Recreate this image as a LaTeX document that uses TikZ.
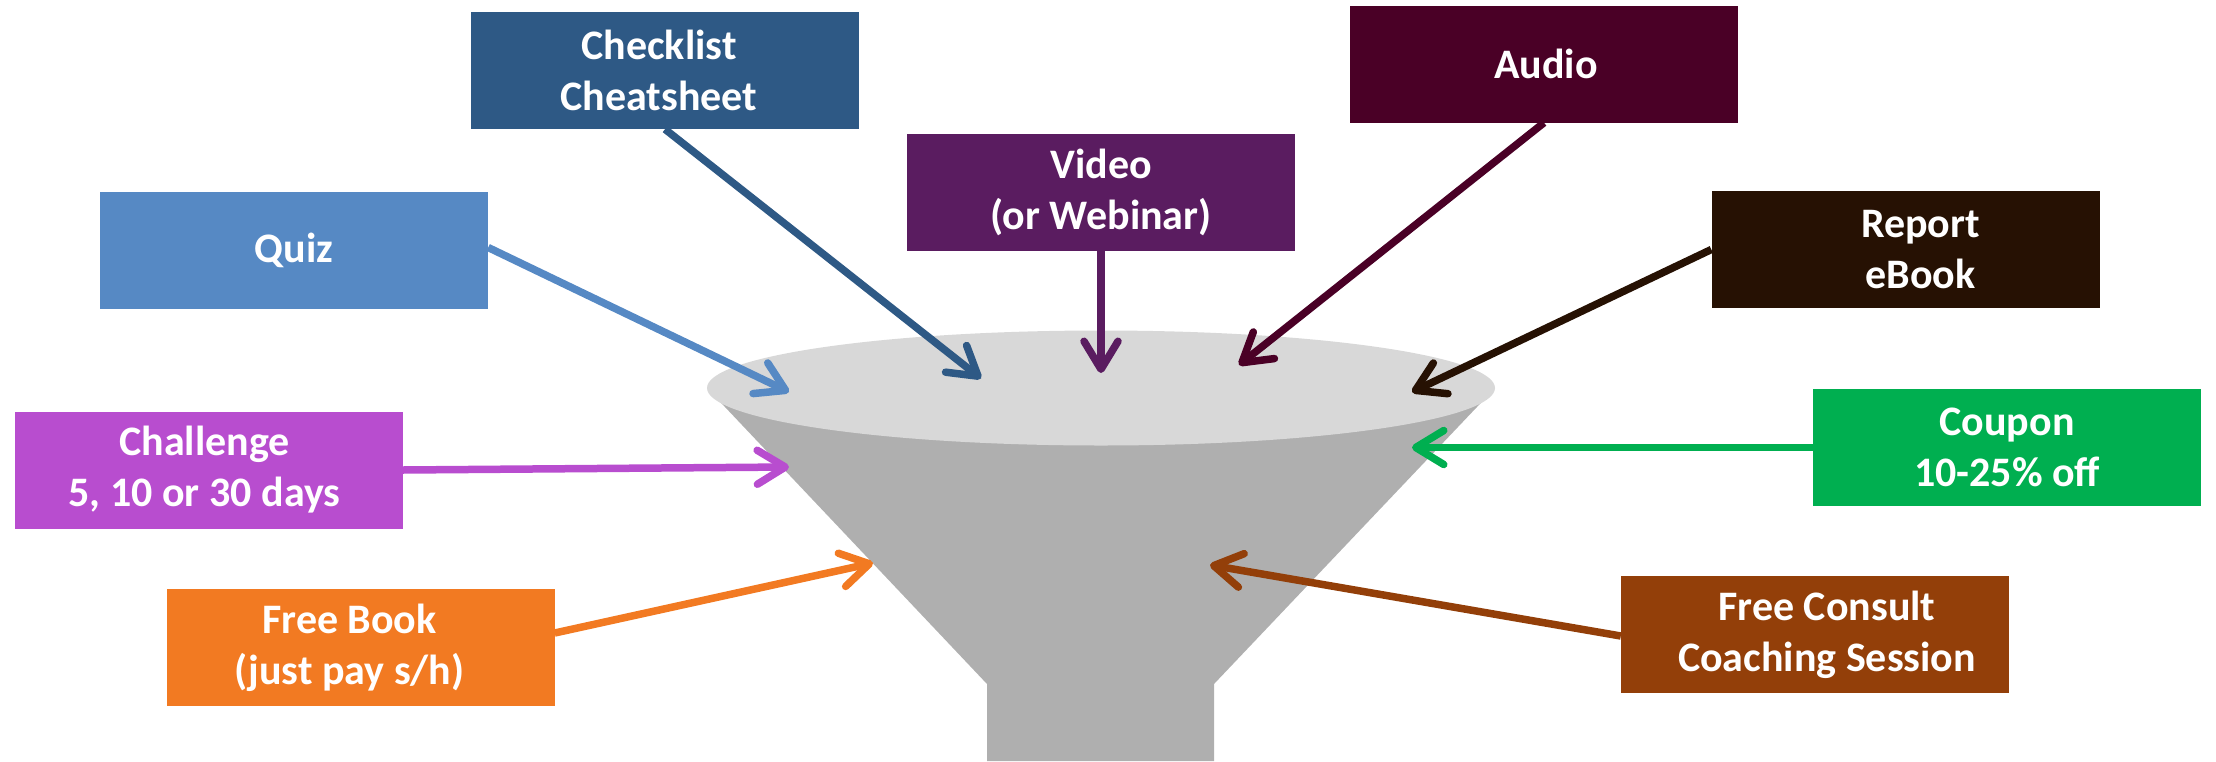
\documentclass[tikz,border=0pt]{standalone}
\usepackage{fontspec}
\setmainfont{Carlito}
\usetikzlibrary{arrows.meta}
\definecolor{cQuiz}{HTML}{5689C4}
\definecolor{cCheck}{HTML}{2E5985}
\definecolor{cVideo}{HTML}{5A1C60}
\definecolor{cAudio}{HTML}{4A0026}
\definecolor{cReport}{HTML}{261103}
\definecolor{cCoupon}{HTML}{00AF50}
\definecolor{cConsult}{HTML}{933F09}
\definecolor{cChall}{HTML}{B84DCF}
\definecolor{cBook}{HTML}{F27A22}
\definecolor{cTop}{HTML}{D8D8D8}
\definecolor{cCone}{HTML}{AFAFAF}
\newcommand{\shiftline}[1]{\hspace*{#1}}
\begin{document}
\begin{tikzpicture}[x=1pt,y=-1pt,
  box/.style={minimum width=388pt,minimum height=117pt,inner sep=0pt,align=center,
    text=white,font=\fontsize{42}{51}\selectfont\bfseries},
  link/.style={line width=7.5pt,-{Straight Barb[length=28pt,width=34pt,round]}}]
\useasboundingbox (0,0) rectangle (2216,761);
% funnel
\fill[cCone] (707,388) -- (987,684) -- (987,761) -- (1214,761) -- (1214,684) -- (1495,388) -- cycle;
\fill[cTop] (1101,388) ellipse [x radius=394pt,y radius=57.5pt];
% boxes
\node[box,fill=cCheck] (check) at (665,70.5) {\shiftline{-12pt}Checklist\\\shiftline{-12pt}Cheatsheet};
\node[box,fill=cQuiz] (quiz) at (294,250.5) {Quiz};
\node[box,fill=cChall] (chall) at (208.5,470) {\shiftline{-8pt}Challenge\\\shiftline{-8pt}5, 10 or 30 days};
\node[box,fill=cBook] (book) at (360.5,647.5) {\shiftline{-22pt}Free Book\\\shiftline{-22pt}(just pay s/h)};
\node[box,fill=cVideo] (video) at (1101,192) {Video\\(or Webinar)};
\node[box,fill=cAudio] (audio) at (1544,64) {\shiftline{4pt}Audio};
\node[box,fill=cReport] (report) at (1905.5,249.5) {\shiftline{30pt}Report\\\shiftline{30pt}eBook};
\node[box,fill=cCoupon] (coupon) at (2007,447.5) {Coupon\\10-25\% off};
\node[box,fill=cConsult] (consult) at (1815,634.5) {\shiftline{24pt}Free Consult\\\shiftline{24pt}Coaching Session};
% arrow targets
\coordinate (tQuiz) at (789,392);
\coordinate (tCheck) at (981,378.5);
\coordinate (tVideo) at (1101,373);
\coordinate (tChall) at (789,467);
\coordinate (tBook) at (873,563);
\coordinate (tAudio) at (1239,365);
\coordinate (tReport) at (1412,392);
\coordinate (tCoupon) at (1412,447.5);
\coordinate (tConsult) at (1210,565);
% arrows
\draw[link,cQuiz] ([yshift=3pt]quiz.east) -- (tQuiz);
\draw[link,cCheck] (check.south) -- (tCheck);
\draw[link,cVideo] (video.south) -- (tVideo);
\draw[link,cChall] (chall.east) -- (tChall);
\draw[link,cBook] ([yshift=14.5pt]book.east) -- (tBook);
\draw[link,cAudio] (audio.south) -- (tAudio);
\draw[link,cReport] (report.west) -- (tReport);
\draw[link,cCoupon] (coupon.west) -- (tCoupon);
\draw[link,cConsult] ([yshift=-1.5pt]consult.west) -- (tConsult);
\end{tikzpicture}
\end{document}
